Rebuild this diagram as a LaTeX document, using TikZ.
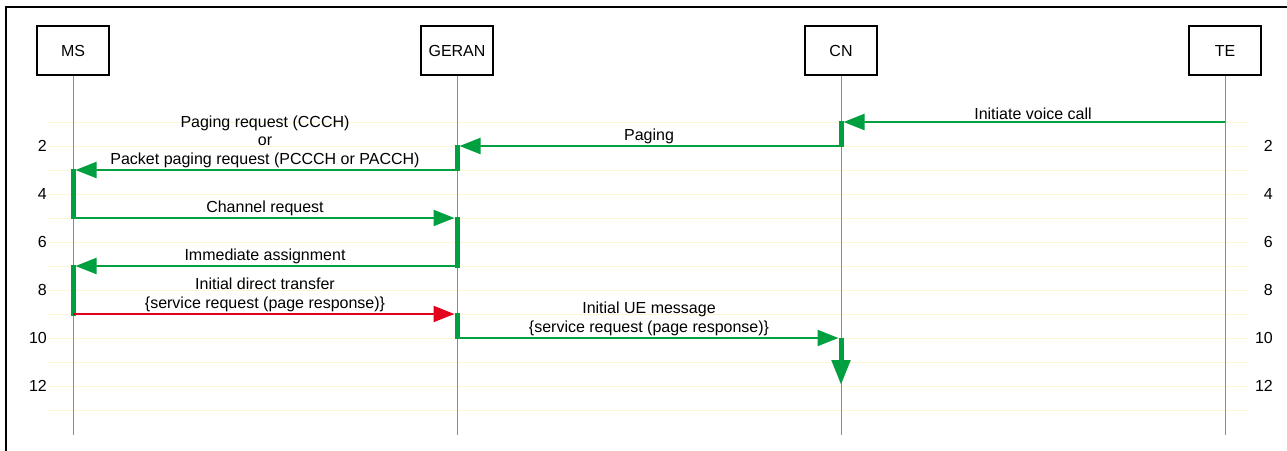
\documentclass[tikz,border=0pt]{standalone}
\usepackage{fontspec}
\setmainfont{Liberation Sans}
\usetikzlibrary{arrows.meta}
\definecolor{msggreen}{RGB}{0,160,64}
\definecolor{msgred}{RGB}{228,0,28}
\definecolor{gridyellow}{RGB}{255,246,210}
\definecolor{lifegray}{RGB}{140,140,140}
\begin{document}
\begin{tikzpicture}[x=1pt,y=-1pt,
  font=\fontsize{16}{18.5}\selectfont,
  entity/.style={draw=black, line width=2.4pt, fill=white, minimum width=72pt, minimum height=49pt, inner sep=0pt},
  life/.style={draw=lifegray, line width=1pt},
  gridln/.style={draw=gridyellow, line width=1pt},
  msg/.style={draw=msggreen, line width=2.2pt, -{Triangle[length=21pt,width=16pt]}},
  msgr/.style={msg, draw=msgred},
  actbar/.style={draw=msggreen, line width=5pt},
  lbl/.style={anchor=south, inner sep=0pt, align=center, yshift=2pt},
  rownum/.style={anchor=east, inner sep=0pt}
]
\useasboundingbox (0,0) rectangle (1287,450);
% outer frame (right and bottom outside the picture)
\draw[line width=2.5pt] (6,452) -- (6,7) -- (1289,7);

% grid lines
\foreach \n in {1,...,13}
  \draw[gridln] (48,{98+24*\n}) -- (1249,{98+24*\n});
% row numbers
\foreach \n in {2,4,...,12}{
  \node[rownum] (l\n) at (47,{98+24*\n}) {\n};
  \node[rownum] (r\n) at (1273,{98+24*\n}) {\n};
}

% entities
\node[entity] (ms)    at (73,50.5)   {MS};
\node[entity] (geran) at (457,50.5)  {GERAN};
\node[entity] (cn)    at (841,50.5)  {CN};
\node[entity] (te)    at (1225,50.5) {TE};

% lifeline ends
\coordinate (msE) at (73,435);
\coordinate (geranE) at (457,435);
\coordinate (cnE) at (841,435);
\coordinate (teE) at (1225,435);
\draw[life] (ms.south) -- (msE);
\draw[life] (geran.south) -- (geranE);
\draw[life] (cn.south) -- (cnE);
\draw[life] (te.south) -- (teE);

% named points
\coordinate (te1) at (1225,122);
\coordinate (cn1) at (841,121);
\coordinate (cn1t) at (843.5,122);
\coordinate (cn2) at (841,147);
\coordinate (cn2s) at (841,146);
\coordinate (ge2) at (457,145);
\coordinate (ge2t) at (459.5,146);
\coordinate (ge3) at (457,171);
\coordinate (ge3s) at (457,170);
\coordinate (ms3) at (73,169);
\coordinate (ms3t) at (75.5,170);
\coordinate (ms5) at (73,219);
\coordinate (ms5s) at (73,218);
\coordinate (ge5) at (457,217);
\coordinate (ge5t) at (454.5,218);
\coordinate (ge7) at (457,268);
\coordinate (ge7s) at (457,266);
\coordinate (ms7) at (73,265);
\coordinate (ms7t) at (75.5,266);
\coordinate (ms9) at (73,316);
\coordinate (ms9s) at (73,314);
\coordinate (ge9) at (457,313);
\coordinate (ge9t) at (454.5,314);
\coordinate (ge10) at (457,339);
\coordinate (ge10s) at (457,338);
\coordinate (cn10) at (838.5,338);
\coordinate (cn10s) at (841,338);
\coordinate (cn12) at (841,385);

% activation bars
\draw[actbar] (cn1) -- (cn2);
\draw[actbar] (ge2) -- (ge3);
\draw[actbar] (ms3) -- (ms5);
\draw[actbar] (ge5) -- (ge7);
\draw[actbar] (ms7) -- (ms9);
\draw[actbar] (ge9) -- (ge10);
\draw[actbar, -{Triangle[length=25pt,width=18pt]}] (cn10s) -- (cn12);

% messages
\draw[msg] (te1) -- (cn1t);
\node[lbl] (t1) at (1033,122) {Initiate voice call};
\draw[msg] (cn2s) -- (ge2t);
\node[lbl] (t2) at (649,146) {Paging};
\draw[msg] (ge3s) -- (ms3t);
\node[lbl] (t3) at (265,170) {Paging request (CCCH)\\or\\Packet paging request (PCCCH or PACCH)};
\draw[msg] (ms5s) -- (ge5t);
\node[lbl] (t5) at (265,218) {Channel request};
\draw[msg] (ge7s) -- (ms7t);
\node[lbl] (t7) at (265,266) {Immediate assignment};
\draw[msgr] (ms9s) -- (ge9t);
\node[lbl] (t9) at (265,314) {Initial direct transfer\\\{service request (page response)\}};
\draw[msg] (ge10s) -- (cn10);
\node[lbl] (t10) at (649,338) {Initial UE message\\\{service request (page response)\}};
\end{tikzpicture}
\end{document}
